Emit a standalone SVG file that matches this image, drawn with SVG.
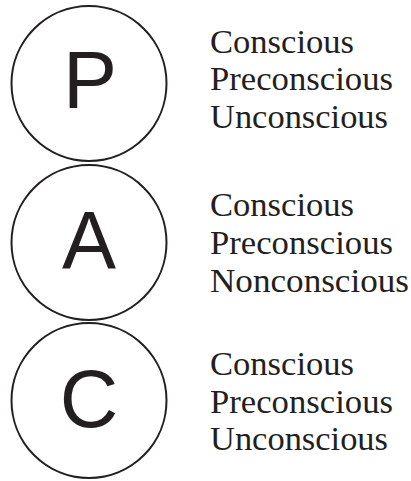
<svg xmlns="http://www.w3.org/2000/svg" width="411" height="481" viewBox="0 0 411 481">
<style>
.c{fill:none;stroke:#231f20;stroke-width:2}
.l{font-family:"Liberation Sans",Arial,sans-serif;font-size:81px;fill:#231f20;text-anchor:middle}
.t{font-family:"Liberation Serif","Times New Roman",serif;font-size:34px;fill:#231f20}
</style>
<rect width="411" height="481" fill="#fff"/>
<g id="connectors"/>
<g id="P">
<circle class="c" cx="89" cy="83.5" r="77.5"/>
<text class="l" x="90" y="108">P</text>
</g>
<g id="A">
<circle class="c" cx="89" cy="242.5" r="77.5"/>
<text class="l" x="89" y="268">A</text>
</g>
<g id="C">
<circle class="c" cx="89" cy="400.5" r="77.5"/>
<text class="l" x="89" y="427">C</text>
</g>
<g id="P-labels">
<text class="t" x="210" y="53" textLength="144" lengthAdjust="spacingAndGlyphs">Conscious</text>
<text class="t" x="210" y="90" textLength="183" lengthAdjust="spacingAndGlyphs">Preconscious</text>
<text class="t" x="210" y="127.5" textLength="178" lengthAdjust="spacingAndGlyphs">Unconscious</text>
</g>
<g id="A-labels">
<text class="t" x="210" y="216" textLength="144" lengthAdjust="spacingAndGlyphs">Conscious</text>
<text class="t" x="210" y="254" textLength="183" lengthAdjust="spacingAndGlyphs">Preconscious</text>
<text class="t" x="210" y="292" textLength="199" lengthAdjust="spacingAndGlyphs">Nonconscious</text>
</g>
<g id="C-labels">
<text class="t" x="210" y="375" textLength="144" lengthAdjust="spacingAndGlyphs">Conscious</text>
<text class="t" x="210" y="413" textLength="183" lengthAdjust="spacingAndGlyphs">Preconscious</text>
<text class="t" x="210" y="450" textLength="178" lengthAdjust="spacingAndGlyphs">Unconscious</text>
</g>
</svg>
